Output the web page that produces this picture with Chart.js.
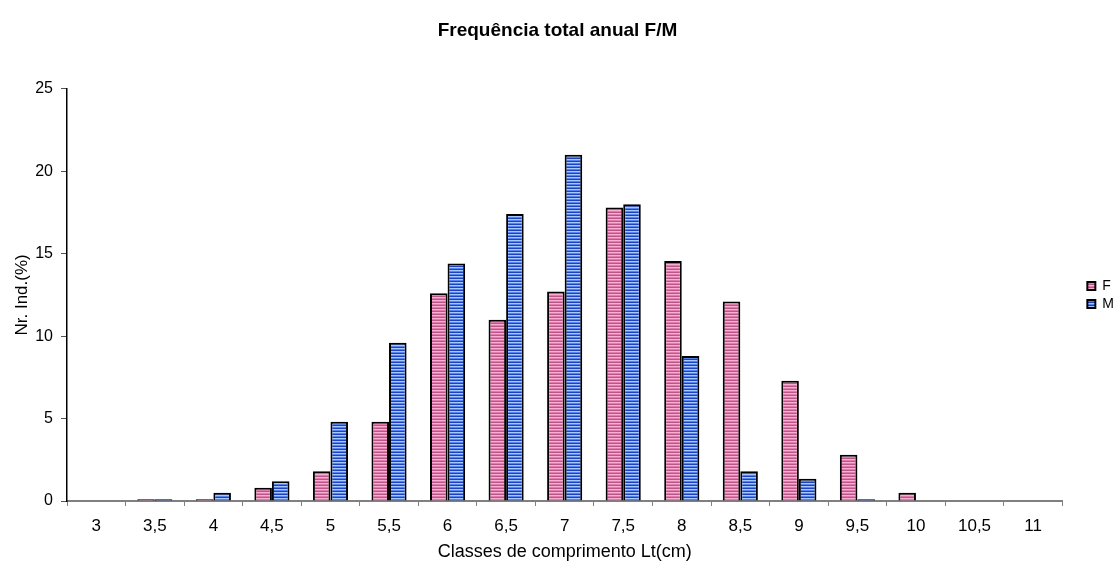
<!DOCTYPE html>
<html>
<head>
<meta charset="utf-8">
<title>Frequência total anual F/M</title>
<script src="https://cdn.jsdelivr.net/npm/chart.js@4/dist/chart.umd.min.js"></script>
<style>
  body { margin: 0; background: #fff; }
  #wrap { width: 1116px; height: 566px; }
</style>
</head>
<body>
<div id="wrap"><canvas id="freqChart"></canvas></div>
<script>
// length classes (cm) and annual frequency (%) per sex
const classes = ['3', '3,5', '4', '4,5', '5', '5,5', '6', '6,5', '7', '7,5', '8', '8,5', '9', '9,5', '10', '10,5', '11'];
const femeas = [0, 0.1, 0.1, 0.8, 1.8, 4.8, 12.6, 11.0, 12.7, 17.8, 14.55, 12.1, 7.3, 2.8, 0.5, 0, 0];
const machos = [0, 0.1, 0.5, 1.2, 4.8, 9.6, 14.4, 17.4, 21.0, 18.0, 8.8, 1.8, 1.35, 0.1, 0, 0, 0];
const yTicks = [0, 5, 10, 15, 20, 25];

// horizontal stripe fill, like the old spreadsheet pattern
function stripes(rows) {
  const c = document.createElement('canvas');
  c.width = 4; c.height = rows.length;
  const g = c.getContext('2d');
  rows.forEach((col, i) => { g.fillStyle = col; g.fillRect(0, i, 4, 1); });
  return g.createPattern(c, 'repeat');
}

// nudge the legend away from the plot, a bit lower
const legendOffset = {
  id: 'legendOffset',
  afterLayout(chart) {
    const lg = chart.legend;
    lg.left += 21; lg.right += 21;
    lg.top += 12; lg.bottom += 12;
  }
};

const font = 'Liberation Sans, Arial, sans-serif';
Chart.defaults.font.family = font;
Chart.defaults.color = '#000';

const ctx = document.getElementById('freqChart').getContext('2d');
new Chart(ctx, {
  type: 'bar',
  data: {
    labels: classes,
    datasets: [{
      label: 'F',
      data: femeas,
      backgroundColor: stripes(['#fbaed2', '#e07cad', '#bb5788']),
      borderColor: '#000',
      borderWidth: 2,
      borderSkipped: 'bottom'
    }, {
      label: 'M',
      data: machos,
      backgroundColor: stripes(['#a4c8ff', '#5584ec', '#1f40c0']),
      borderColor: '#000',
      borderWidth: 2,
      borderSkipped: 'bottom'
    }]
  },
  options: {
    responsive: true,
    maintainAspectRatio: false,
    animation: false,
    datasets: { bar: { categoryPercentage: 0.6, barPercentage: 1.0 } },
    layout: { padding: { left: 12, right: 13, top: 0, bottom: 0 } },
    plugins: {
      title: {
        display: true,
        text: 'Frequência total anual F/M',
        font: { size: 19, weight: 'bold' },
        padding: { top: 19, bottom: 47 }
      },
      legend: {
        position: 'right',
        labels: {
          boxWidth: 8,
          boxHeight: 8,
          padding: 4,
          font: { size: 14 }
        }
      },
      tooltip: { enabled: false }
    },
    scales: {
      x: {
        afterFit: s => { s.height = 65; },
        grid: { offset: true, drawOnChartArea: false, tickLength: 5, tickColor: '#808080' },
        border: { color: '#808080', width: 2 },
        ticks: { font: { size: 17 }, padding: 10, maxRotation: 0 },
        title: { display: true, text: 'Classes de comprimento Lt(cm)', font: { size: 18 }, padding: { top: 0, bottom: 3 } }
      },
      y: {
        min: 0,
        max: 25,
        afterFit: s => { s.width = 55; },
        afterBuildTicks: s => { s.ticks = yTicks.map(v => ({ value: v })); },
        grid: { drawOnChartArea: false, tickLength: 6, tickColor: '#555' },
        border: { color: '#000', width: 1.5 },
        ticks: { font: { size: 16 }, padding: 8 },
        title: { display: true, text: 'Nr. Ind.(%)', font: { size: 17 }, padding: { top: 0, bottom: 0 } }
      }
    }
  },
  plugins: [legendOffset]
});
</script>
</body>
</html>
